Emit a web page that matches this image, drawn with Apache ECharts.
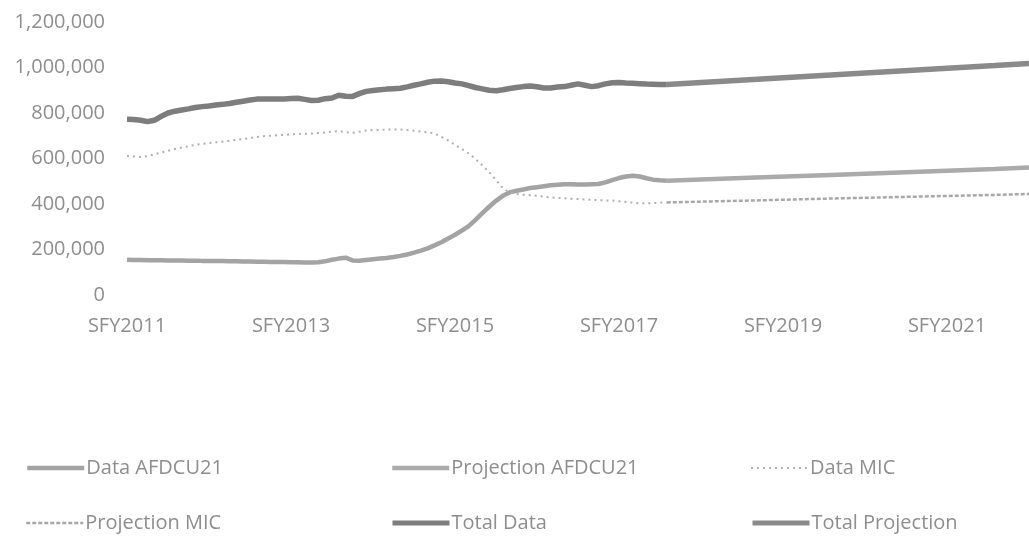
<!DOCTYPE html>
<html>
<head>
<meta charset="utf-8">
<script src="https://cdn.jsdelivr.net/npm/echarts@6/dist/echarts.min.js"></script>
<style>
	html,body{margin:0;padding:0;background:#fff;}
	#chart{width:1029px;height:539px;}
</style>
</head>
<body>
<div id="chart"></div>
<script>
// x轴标签（每两年一个）
var xTickLabels = ['SFY2011','SFY2013','SFY2015','SFY2017','SFY2019','SFY2021'];
var monthCount = 133;

// 实际数据 (千人)，逐月，index 0..79
var dataAFDCU = [155,154,154,153,153,153,152,152,152,151,151,150,150,149,149,148,148,147,147,146,
	146,145,145,145,144,144,143,143,144,148,155,160,164,152,151,154,157,160,163,167,
	172,178,186,195,205,218,232,248,265,283,303,330,360,388,414,436,451,458,464,470,
	474,478,482,485,487,487,486,486,487,488,495,505,514,521,524,521,513,507,504,502];
var dataMIC = [611,609,607,610,618,626,634,642,648,654,660,664,668,671,674,678,682,686,690,694,
	698,700,702,704,706,708,709,710,712,714,718,720,716,713,718,723,725,726,727,727,
	727,725,722,719,715,710,695,680,660,642,622,598,570,540,505,470,450,444,441,439,
	436,432,429,427,425,423,422,420,418,417,416,415,412,409,406,403,403,404,406,407];
var dataTotal = [772,771,768,762,768,785,800,808,813,818,824,828,831,835,838,842,847,852,857,861,
	862,862,862,862,864,865,860,855,856,863,866,878,874,873,885,895,899,902,905,907,
	909,915,922,928,935,940,941,937,932,928,920,912,906,900,898,902,908,912,916,919,
	915,910,910,914,916,922,928,922,916,920,928,933,934,932,931,929,927,926,925,925];

// 预测 (读取的几个点，月份index)
var projIdx = [79,91,103,115,127,132];
var projAFDCU = [502,515,528,541,554,560];
var projMIC = [407,415,424,432,440,444];
var projTotal = [925,946,967,988,1009,1018];

var categories = [];
for (var i=0;i<monthCount;i++) {
	categories.push('SFY' + (2011 + Math.floor(i/12)) + '-' + (i%12 + 1));
}

function toK(arr){
	return arr.map(function(v){ return v*1000; });
}
function toPairs(idx, arr){
	return idx.map(function(k,j){ return [k, arr[j]*1000]; });
}

var font = '"Open Sans", "Liberation Sans", sans-serif';
var textGray = '#8e8e8e';

function lineSeries(name, data, color, width, type){
	return {
		name: name,
		type: 'line',
		data: data,
		symbol: 'none',
		smooth: false,
		connectNulls: true,
		lineStyle: {color: color, width: width, type: type || 'solid'},
		itemStyle: {color: color}
	};
}

function legendAt(name, left, top, lw){
	return {
		data: [name],
		left: left,
		top: top,
		itemWidth: 57,
		itemHeight: 6,
		itemGap: 0,
		lineStyle: {width: lw},
		itemStyle: {color: 'rgba(0,0,0,0)', borderWidth: 0, opacity: 0},
		textStyle: {fontFamily: font, fontSize: 20, color: textGray, padding: [0,0,0,-3]}
	};
}

var chart = echarts.init(document.getElementById('chart'));
var option = {
	backgroundColor: '#fff',
	animation: false,
	grid: {left: 127, right: 0, top: 22, bottom: 244, containLabel: false},
	legend: [
		legendAt('Data AFDCU21', 20, 453, 4.5),
		legendAt('Projection AFDCU21', 385, 453, 4.5),
		legendAt('Data MIC', 745, 453, 2),
		legendAt('Projection MIC', 20, 508, 2.5),
		legendAt('Total Data', 385, 508, 5),
		legendAt('Total Projection', 745, 508, 5)
	],
	xAxis: {
		type: 'category',
		data: categories,
		boundaryGap: false,
		axisLine: {show: false},
		axisTick: {show: false},
		axisLabel: {
			interval: 23,
			margin: 21,
			fontFamily: font,
			fontSize: 20,
			color: textGray,
			formatter: function(v, idx){ return xTickLabels[idx/24] || ''; }
		}
	},
	yAxis: {
		type: 'value',
		min: 0,
		max: 1200000,
		interval: 200000,
		splitLine: {show: false},
		axisLine: {show: false},
		axisTick: {show: false},
		axisLabel: {margin: 22, fontFamily: font, fontSize: 20, color: textGray}
	},
	series: [
		lineSeries('Data AFDCU21', toK(dataAFDCU), '#a3a3a3', 4.5),
		lineSeries('Projection AFDCU21', toPairs(projIdx, projAFDCU), '#aaaaaa', 4.5),
		lineSeries('Data MIC', toK(dataMIC), '#b0b0b0', 2, [2,4]),
		lineSeries('Projection MIC', toPairs(projIdx, projMIC), '#a8a8a8', 2.5, [4,2]),
		lineSeries('Total Data', toK(dataTotal), '#7d7d7d', 5.5),
		lineSeries('Total Projection', toPairs(projIdx, projTotal), '#8a8a8a', 5.5)
	]
};
chart.setOption(option);
</script>
</body>
</html>
